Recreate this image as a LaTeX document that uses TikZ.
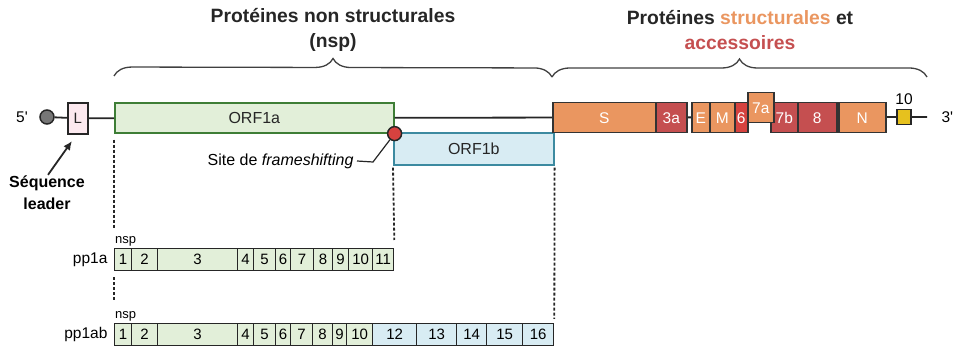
\documentclass[tikz,border=0pt]{standalone}
\usepackage{fontspec}
\setmainfont{Liberation Sans}
\usetikzlibrary{positioning, decorations.pathreplacing, arrows.meta}

\definecolor{leadpink}{HTML}{FCE9EF}
\definecolor{orfgreen}{HTML}{E2EFD9}
\definecolor{orfgreenline}{HTML}{3E7E36}
\definecolor{orfblue}{HTML}{D8ECF3}
\definecolor{orfblueline}{HTML}{3C8AA0}
\definecolor{structorange}{HTML}{EA9660}
\definecolor{accred}{HTML}{C54F50}
\definecolor{brightred}{HTML}{D6423F}
\definecolor{capgray}{HTML}{767676}
\definecolor{tenyellow}{HTML}{E6C11E}

\tikzset{
  every node/.style={font=\fontsize{15.5}{18}\selectfont},
  gene/.style={draw=black!80, line width=1.5pt, inner sep=0pt, anchor=north west,
    minimum height=30pt, text=white},
  orf/.style={draw, line width=1.6pt, inner sep=0pt, anchor=north west, text=black!85,
    font=\fontsize{16}{18}\selectfont},
  nsp/.style={draw=black!85, line width=1.3pt, inner sep=0pt, anchor=north west,
    minimum height=22pt, font=\fontsize{15}{17}\selectfont},
  smalltxt/.style={font=\fontsize{13}{15}\selectfont, inner sep=1pt},
  guide/.style={black!85, line width=1.8pt, dash pattern=on 3pt off 2pt},
  brace/.style={decorate, decoration={brace, amplitude=18pt}, line width=1.3pt, black!75},
  title/.style={align=center, font=\fontsize{19.3}{25}\selectfont\bfseries, text=black!85},
  line/.style={black!85, line width=1.8pt}
}

\begin{document}
\begin{tikzpicture}[x=1pt, y=-1pt]
\useasboundingbox (0,0) rectangle (954,347);

% 5' end, leader and ORF1a / ORF1b
\node (p5) at (22,117) {5\textquotesingle};
\node[circle, draw=black!85, line width=1.5pt, fill=capgray, minimum size=14pt, inner sep=0pt] (cap5) at (47,117) {};
\node[orf, draw=black!85, fill=leadpink, minimum width=20pt, minimum height=31pt, font=\fontsize{15}{17}\selectfont] (lead) at (67,102) {L};
\node[orf, draw=orfgreenline, fill=orfgreen, minimum width=279pt, minimum height=30pt] (orf1a) at (114,102) {ORF1a};
\node[orf, draw=orfblueline, fill=orfblue, minimum width=160pt, minimum height=32pt] (orf1b) at (393,132) {ORF1b};
\coordinate (end3) at (927,117);
\node[anchor=west] (cap3) at (938,117) {3\textquotesingle};

\draw[line] (cap5) -- (lead);
\draw[line] (lead) -- (orf1a);
\draw[line] (orf1a.east) -- (end3);

% structural and accessory genes
\foreach \nm/\lab/\xl/\xr/\col in {s/S/552/655/structorange, g3a/3a/655/686/accred,
    e/E/691/709/structorange, m/M/709/734/structorange, g6/6/734/747/brightred,
    g7b/7b/770/797/accred, g8/8/797/836/accred, n/N/838/885/structorange}
  \node[gene, fill=\col, minimum width={(\xr-\xl)*1pt}] (\nm) at (\xl,102) {\lab};
\node[gene, fill=structorange, minimum width=26pt] (g7a) at (747,92) {7a};
\node[draw=black!85, line width=1.5pt, fill=tenyellow, minimum width=14pt, minimum height=15pt, inner sep=0pt] (p10) at (904,117) {};
\node[above=1pt of p10] (lab10) {10};

% frameshifting site
\node[circle, draw=black!85, line width=1.5pt, fill=brightred, minimum size=14pt, inner sep=0pt] (fs) at (orf1a.south east) {};
\coordinate (fsbend) at (373,162);
\node[anchor=east, font=\fontsize{16}{18}\selectfont] (fslab) at (357,161) {Site de \textit{frameshifting}};
\draw[line, line width=1.2pt] (fs) -- (fsbend) -- (fslab.east);

% leader sequence
\node[align=center, font=\fontsize{16}{22}\selectfont\bfseries, inner sep=1pt] (leadlab) at (47,193) {Séquence\\leader};
\coordinate (leadtip) at (72,141);
\draw[line, -{Latex[length=9pt, width=8pt]}] ([xshift=1pt]leadlab.north) -- (leadtip);

% braces and titles
\draw[brace] ([yshift=26pt]orf1a.north west) -- ([yshift=25pt]s.north west);
\draw[brace] ([yshift=25pt]s.north west) -- ([yshift=40pt]end3);
\node[title] (nsptitle) at (333,30) {Protéines non structurales\\(nsp)};
\node[title] (sptitle) at (740,30) {Protéines \textcolor{structorange}{structurales} et\\\textcolor{accred}{accessoires}};

% polyproteins
\foreach \k/\xl/\xr in {1/114/131, 2/131/157, 3/157/237, 4/237/253, 5/253/275, 6/275/290,
    7/290/313, 8/313/332, 9/332/348, 10/348/372, 11/372/393}
  \node[nsp, fill=orfgreen, minimum width={(\xr-\xl)*1pt}] (a\k) at (\xl,248) {\k};
\foreach \k/\xl/\xr in {1/114/131, 2/131/157, 3/157/237, 4/237/253, 5/253/275, 6/275/290,
    7/290/312, 8/312/332, 9/332/346, 10/346/372}
  \node[nsp, fill=orfgreen, minimum width={(\xr-\xl)*1pt}] (ab\k) at (\xl,323) {\k};
\foreach \k/\xl/\xr in {12/372/416, 13/416/456, 14/456/486, 15/486/522, 16/522/553}
  \node[nsp, fill=orfblue, minimum width={(\xr-\xl)*1pt}] (ab\k) at (\xl,323) {\k};

\node[left=3pt of a1] (pp1a) {pp1a};
\node[left=3pt of ab1] (pp1ab) {pp1ab};
\node[smalltxt, anchor=south west] (nspa) at ([yshift=1pt]a1.north west) {nsp};
\node[smalltxt, anchor=south west] (nspab) at ([yshift=1pt]ab1.north west) {nsp};

% guides
\draw[guide] ([yshift=-6pt]orf1a.south west) -- ([yshift=20pt]a1.north west);
\draw[guide] ([yshift=-6pt]a1.south west) -- ([yshift=22pt]ab1.north west);
\draw[guide] ([yshift=-2pt]orf1b.south west) -- ([yshift=8pt]a11.north east);
\draw[guide] ([yshift=-2pt]orf1b.south east) -- ([yshift=4pt]ab16.north east);
\end{tikzpicture}
\end{document}
